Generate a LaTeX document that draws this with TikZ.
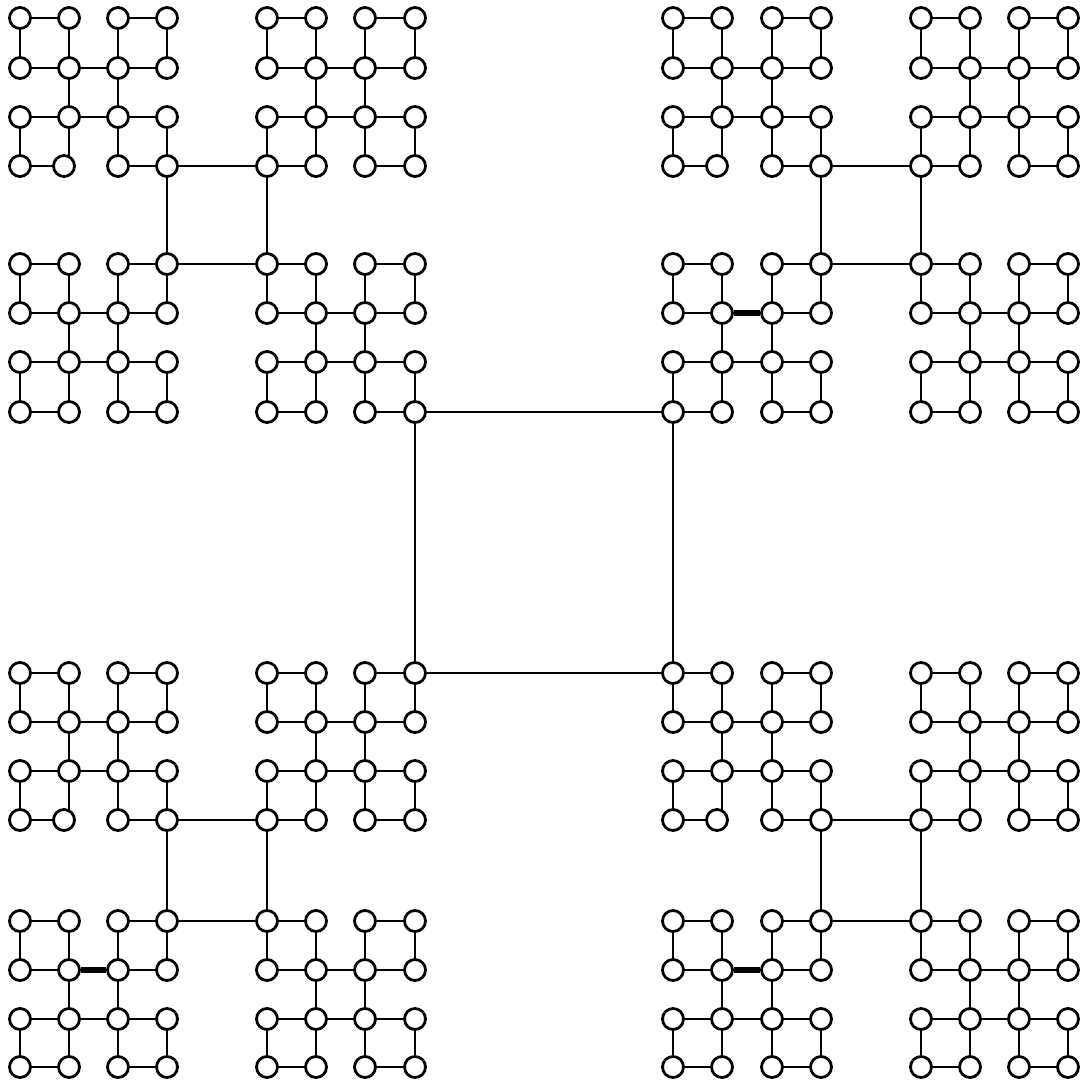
\documentclass[tikz,border=0pt]{standalone}
\newcommand\fracsq[3]{%
  \pgfmathtruncatemacro\ia{#1+#3}%
  \pgfmathtruncatemacro\jb{#2+#3}%
  \draw[edge] (n-#1-#2) -- (n-\ia-#2);
  \draw[edge] (n-\ia-#2.south) -- ([yshift=-2pt]n-\ia-#2.south |- n-\ia-\jb.north);
  \draw[edge] (n-\ia-\jb) -- (n-#1-\jb);
  \draw[edge] (n-#1-#2.south) -- ([yshift=-2pt]n-#1-#2.south |- n-#1-\jb.north);
}
\begin{document}
\begin{tikzpicture}[x=1pt,y=-1pt,
  vtx/.style={circle,draw,fill=white,line width=2.8pt,minimum size=21pt,inner sep=0pt},
  edge/.style={line width=2.6pt},
  thickedge/.style={line width=6pt}]
\useasboundingbox (0,0) rectangle (1086,1086);
\def\X{{20,69,118,167,267,316,365,415,673,722,772,821,921,970,1019,1068}}
\def\Y{{18,68,117,166,264,313,362,412,673,722,771,820,921,970,1019,1067}}
% edges are drawn first (on a lower layer) so vertices cover their ends
\pgfdeclarelayer{bg}
\pgfsetlayers{bg,main}
\foreach \i in {0,...,15}{
  \foreach \j in {0,...,15}{
    \pgfmathsetmacro\dx{ifthenelse(and(mod(\i,8)==1,mod(\j,8)==3),-5,0)}
    \pgfmathsetmacro\xx{\X[\i]+\dx}
    \pgfmathsetmacro\yy{\Y[\j]}
    \node[vtx] (n-\i-\j) at (\xx,\yy) {};
  }
}
\begin{pgfonlayer}{bg}
% smallest squares
\foreach \a in {0,...,7}{
  \foreach \b in {0,...,7}{
    \pgfmathtruncatemacro\p{2*\a}
    \pgfmathtruncatemacro\q{2*\b}
    \fracsq{\p}{\q}{1}
  }
}
% level-3 middle squares
\foreach \a in {0,...,3}{
  \foreach \b in {0,...,3}{
    \pgfmathtruncatemacro\p{4*\a+1}
    \pgfmathtruncatemacro\q{4*\b+1}
    \fracsq{\p}{\q}{1}
  }
}
% level-2 middle squares
\foreach \a in {0,1}{
  \foreach \b in {0,1}{
    \pgfmathtruncatemacro\p{8*\a+3}
    \pgfmathtruncatemacro\q{8*\b+3}
    \fracsq{\p}{\q}{1}
  }
}
% central square
\fracsq{7}{7}{1}
% heavier edges
\draw[thickedge] (n-1-13) -- (n-2-13);
\draw[thickedge] (n-9-5) -- (n-10-5);
\draw[thickedge] (n-9-13) -- (n-10-13);
\end{pgfonlayer}
\end{tikzpicture}
\end{document}
